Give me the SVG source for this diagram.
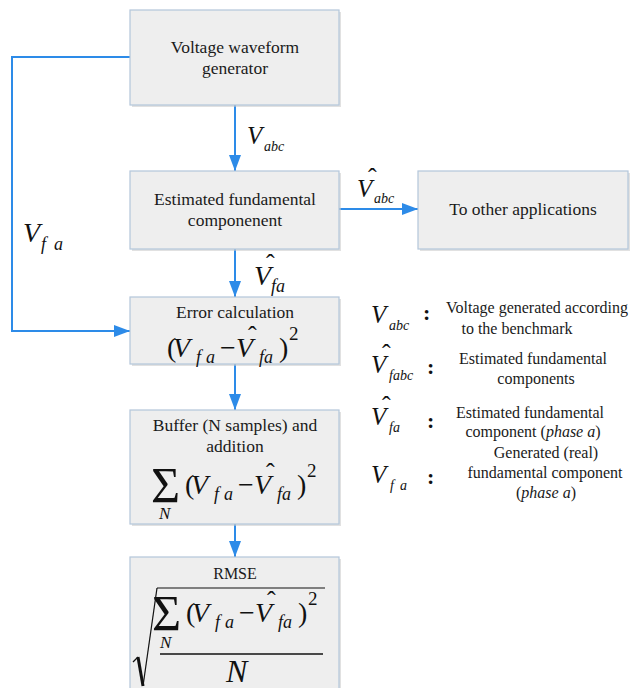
<svg xmlns="http://www.w3.org/2000/svg" xmlns:xlink="http://www.w3.org/1999/xlink" width="635" height="688" viewBox="0 0 635 688" font-family="Liberation Serif, Times New Roman, DejaVu Serif, serif">
<style>
.box{fill:#eeeeee;stroke:#b3c6da;stroke-width:1.2}
.sh{fill:#c9c9c9;opacity:.55}
.t{font-size:17.5px;fill:#1a1a1a;text-anchor:middle}
.l{font-size:16px;fill:#1a1a1a;text-anchor:middle}
.m{font-size:28px;fill:#111}
.mi{font-size:28px;font-style:italic;fill:#111}
.ms{font-size:18px;font-style:italic;fill:#111}
.sup{font-size:19px;fill:#111}
.hat{font-size:26px;fill:#111}
.vi{font-size:25px;font-style:italic;fill:#111}
.vs{font-size:14px;font-style:italic;fill:#111}
.sig{font-size:50px;fill:#111}
.col{font-size:22px;font-weight:bold;fill:#111}
.ln{fill:none;stroke:#2d8be8;stroke-width:2}
.rad{fill:none;stroke:#111}
</style>
<defs>
<marker id="ah" viewBox="0 0 16 12" refX="16" refY="6" markerWidth="16" markerHeight="12" markerUnits="userSpaceOnUse" orient="auto">
<path d="M0,0 L16,6 L0,12 Z" fill="#2d8be8"/>
</marker>
<g id="sq">
<text class="m" x="0" y="0">(</text>
<text class="mi" x="6" y="0">V</text>
<text class="ms" x="29" y="6">f</text>
<text class="ms" x="39" y="6">a</text>
<text class="m" x="53" y="0">−</text>
<text class="mi" x="69" y="0">V</text>
<text class="hat" x="81" y="-13">ˆ</text>
<text class="ms" x="92" y="6">fa</text>
<text class="m" x="112" y="0">)</text>
<text class="sup" x="122" y="-17">2</text>
</g>
</defs>
<rect width="635" height="688" fill="#ffffff"/>

<g id="connectors">
<line class="ln" x1="235" y1="105" x2="235" y2="171" marker-end="url(#ah)"/>
<line class="ln" x1="339" y1="209" x2="418" y2="209" marker-end="url(#ah)"/>
<line class="ln" x1="235" y1="249" x2="235" y2="297" marker-end="url(#ah)"/>
<line class="ln" x1="235" y1="364" x2="235" y2="410" marker-end="url(#ah)"/>
<line class="ln" x1="235" y1="524" x2="235" y2="557" marker-end="url(#ah)"/>
<polyline class="ln" points="130,57 12,57 12,331 130,331" marker-end="url(#ah)"/>
<g id="lbl-vabc"><text class="vi" x="247" y="144">V</text><text class="vs" x="264" y="151">abc</text></g>
<g id="lbl-vhabc"><text class="vi" x="357" y="197">V</text><text class="hat" x="368" y="186">ˆ</text><text class="vs" x="374" y="203">abc</text></g>
<g id="lbl-vhfa"><text class="mi" x="254" y="285">V</text><text class="hat" x="266" y="272">ˆ</text><text class="ms" x="271" y="292">fa</text></g>
<g id="lbl-vfa"><text class="mi" x="23" y="242">V</text><text class="ms" x="41" y="250">f</text><text class="ms" x="54" y="250">a</text></g>
</g>

<g id="n-gen">
<rect class="sh" x="132" y="12" width="209" height="95"/>
<rect class="box" x="130" y="10" width="209" height="95"/>
<text class="t" x="235" y="53">Voltage waveform</text>
<text class="t" x="235" y="74">generator</text>
</g>

<g id="n-est">
<rect class="sh" x="132" y="173" width="209" height="78"/>
<rect class="box" x="130" y="171" width="209" height="78"/>
<text class="t" x="235" y="205">Estimated fundamental</text>
<text class="t" x="235" y="226">componenent</text>
</g>

<g id="n-other">
<rect class="sh" x="420" y="173" width="210" height="78"/>
<rect class="box" x="418" y="171" width="210" height="78"/>
<text class="t" x="523" y="215">To other applications</text>
</g>

<g id="n-err">
<rect class="sh" x="132" y="299" width="209" height="67"/>
<rect class="box" x="130" y="297" width="209" height="67"/>
<text class="t" x="235" y="318">Error calculation</text>
<use xlink:href="#sq" href="#sq" transform="translate(167,357)"/>
</g>

<g id="n-buf">
<rect class="sh" x="132" y="412" width="209" height="114"/>
<rect class="box" x="130" y="410" width="209" height="114"/>
<text class="t" x="235" y="431">Buffer (N samples) and</text>
<text class="t" x="235" y="452">addition</text>
<text class="sig" x="151" y="502">Σ</text>
<text class="ms" x="159" y="519" style="font-size:17px">N</text>
<use xlink:href="#sq" href="#sq" transform="translate(185,494)"/>
</g>

<g id="n-rmse">
<rect class="sh" x="132" y="559" width="209" height="140"/>
<rect class="box" x="130" y="557" width="209" height="140"/>
<text class="l" x="235" y="579">RMSE</text>
<line class="rad" x1="133" y1="662" x2="138" y2="657" stroke-width="1.3"/>
<line class="rad" x1="138" y1="657" x2="143" y2="686" stroke-width="3"/>
<line class="rad" x1="143" y1="686" x2="157" y2="588" stroke-width="1.2"/>
<line class="rad" x1="157" y1="588" x2="325" y2="588" stroke-width="1.2"/>
<text class="sig" x="152" y="630">Σ</text>
<text class="ms" x="160" y="648" style="font-size:17px">N</text>
<use xlink:href="#sq" href="#sq" transform="translate(186,622)"/>
<line class="rad" x1="160" y1="654" x2="323" y2="654" stroke-width="1.3"/>
<text class="mi" x="226" y="682" style="font-size:32px">N</text>
</g>

<g id="legend">
<g id="leg1">
<text class="vi" x="371" y="323">V</text><text class="vs" x="389" y="330">abc</text>
<text class="col" x="423" y="320">:</text>
<text class="l" x="537" y="313">Voltage generated according</text>
<text class="l" x="517" y="334">to the benchmark</text>
</g>
<g id="leg2">
<text class="vi" x="371" y="373">V</text><text class="hat" x="382" y="362">ˆ</text><text class="vs" x="389" y="380">fabc</text>
<text class="col" x="427" y="374">:</text>
<text class="l" x="533" y="364">Estimated fundamental</text>
<text class="l" x="536" y="384">components</text>
</g>
<g id="leg3">
<text class="vi" x="371" y="425">V</text><text class="hat" x="382" y="414">ˆ</text><text class="vs" x="389" y="432">fa</text>
<text class="col" x="427" y="428">:</text>
<text class="l" x="530" y="418">Estimated fundamental</text>
<text class="l" x="533" y="437">component (<tspan font-style="italic">phase a</tspan>)</text>
</g>
<g id="leg4">
<text class="vi" x="371" y="483">V</text><text class="vs" x="390" y="490">f</text><text class="vs" x="400" y="490">a</text>
<text class="col" x="427" y="484">:</text>
<text class="l" x="546" y="458">Generated (real)</text>
<text class="l" x="545" y="478">fundamental component</text>
<text class="l" x="546" y="498">(<tspan font-style="italic">phase a</tspan>)</text>
</g>
</g>
</svg>
